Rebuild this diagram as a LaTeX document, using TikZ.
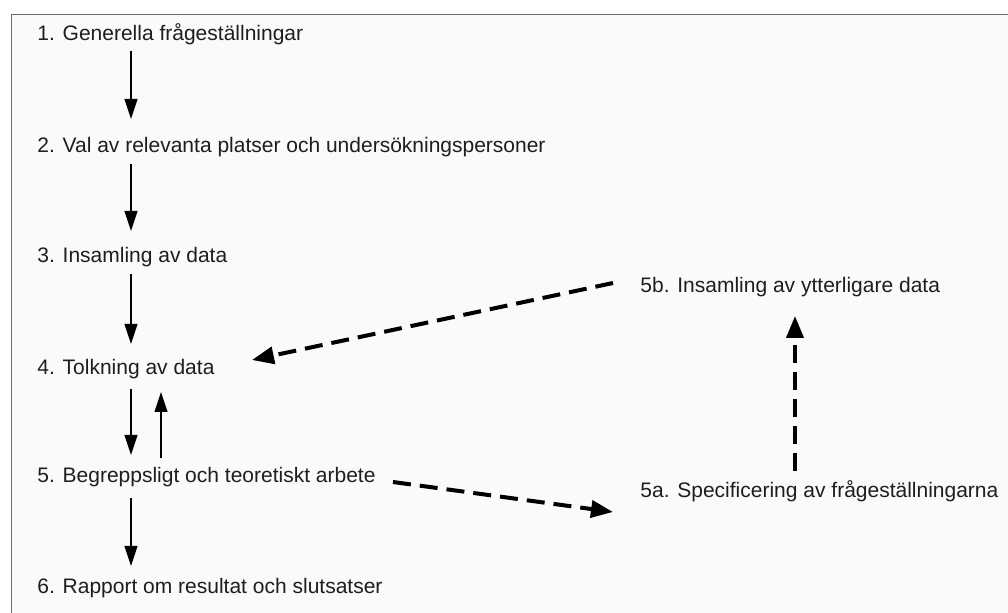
\documentclass[tikz,border=0pt]{standalone}
\usepackage{fontspec}
\setmainfont{Liberation Sans}
\usetikzlibrary{arrows.meta,calc}
\definecolor{bgfill}{HTML}{FAFAFA}
\definecolor{framecol}{HTML}{6B6B6B}
\definecolor{txtcol}{HTML}{1E1E1E}
\tikzset{
  lbl/.style={anchor=base west, inner sep=0pt, text=txtcol, font=\fontsize{10.5pt}{12pt}\selectfont},
  arr/.style={draw=black, line width=0.6pt, -{Triangle[length=10pt,width=6.5pt]}},
  darr/.style={draw=black, line width=2pt, dash pattern=on 9pt off 4.5pt, -{Triangle[length=11pt,width=8.5pt]}}
}
\begin{document}
\begin{tikzpicture}[x=0.5pt,y=-0.5pt]
\useasboundingbox (0,0) rectangle (1008,613);
\path[fill=white] (0,0) rectangle (1008,613);
\draw[framecol, line width=0.8pt, fill=bgfill] (11.5,14.5) rectangle (1020,625);

\node[lbl] (n1) at (37,41) {1. Generella frågeställningar};
\node[lbl] (n2) at (37,153) {2. Val av relevanta platser och undersökningspersoner};
\node[lbl] (n3) at (37,263) {3. Insamling av data};
\node[lbl] (n4) at (37,375) {4. Tolkning av data};
\node[lbl] (n5) at (37,483) {5. Begreppsligt och teoretiskt arbete};
\node[lbl] (n6) at (37,594) {6. Rapport om resultat och slutsatser};
\node[lbl] (n5b) at (640,293) {5b. Insamling av ytterligare data};
\node[lbl] (n5a) at (640,498) {5a. Specificering av frågeställningarna};

\draw[arr] ($(n1.base west)+(94,10)$) -- ($(n2.base west)+(94,-34)$);
\draw[arr] ($(n2.base west)+(94,11)$) -- ($(n3.base west)+(94,-32)$);
\draw[arr] ($(n3.base west)+(94,11)$) -- ($(n4.base west)+(94,-31)$);
\draw[arr] ($(n4.base west)+(94,14)$) -- ($(n5.base west)+(94,-28)$);
\draw[arr] ($(n5.base west)+(124,-25)$) -- ($(n4.base west)+(124,17)$);
\draw[arr] ($(n5.base west)+(94,15)$) -- ($(n6.base west)+(94,-28)$);

\draw[darr] ($(n5b.base west)+(-27,-10)$) -- ($(n4.base west)+(215,-15)$);
\draw[darr] ($(n5.base west)+(356,-1)$) -- ($(n5a.base west)+(-27,14)$);
\draw[darr] ($(n5a.base west)+(155,-27)$) -- ($(n5b.base west)+(155,23)$);
\end{tikzpicture}
\end{document}
